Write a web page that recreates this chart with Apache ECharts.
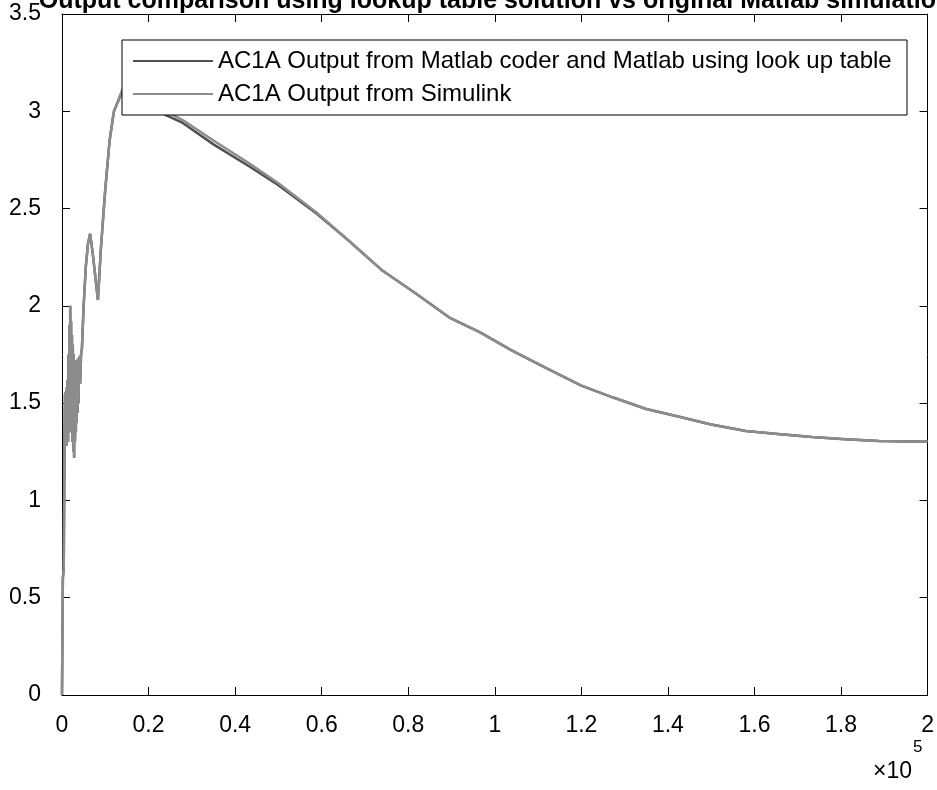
<!DOCTYPE html>
<html>
<head>
<meta charset="utf-8">
<script src="https://cdn.jsdelivr.net/npm/echarts@6/dist/echarts.min.js"></script>
<style>
  html, body { margin: 0; padding: 0; background: #fff; }
  #main { width: 937px; height: 790px; }
</style>
</head>
<body>
<div id="main"></div>
<script>
// time axis in units of 1e5 (axis shows "x10^5")
var timeX = [0, 0.002, 0.004, 0.006, 0.007, 0.008, 0.009, 0.010, 0.011, 0.012,
    0.013, 0.014, 0.015, 0.016, 0.017, 0.018, 0.019, 0.020, 0.021, 0.022,
    0.023, 0.024, 0.025, 0.026, 0.027, 0.028, 0.029, 0.030, 0.031, 0.032,
    0.033, 0.034, 0.035, 0.036, 0.037, 0.038, 0.040, 0.042, 0.044, 0.046,
    0.050, 0.055, 0.060, 0.065, 0.068, 0.072, 0.077, 0.083, 0.090, 0.100,
    0.110, 0.120, 0.141, 0.160, 0.180, 0.203, 0.240, 0.279, 0.350, 0.434,
    0.500, 0.588, 0.660, 0.741, 0.820, 0.895, 0.965, 1.040, 1.119, 1.200,
    1.272, 1.350, 1.426, 1.500, 1.580, 1.660, 1.733, 1.810, 1.888, 1.950,
    2.000];

var coderOut = [0, 0.60, 0.65, 1.35, 1.55, 1.30, 1.56, 1.28, 1.58, 1.32,
    1.62, 1.30, 1.75, 1.35, 1.90, 1.40, 2.00, 1.45, 1.92, 1.35,
    1.85, 1.30, 1.80, 1.25, 1.75, 1.22, 1.70, 1.30, 1.72, 1.35,
    1.70, 1.40, 1.72, 1.45, 1.73, 1.50, 1.74, 1.60, 1.75, 1.78,
    2.00, 2.20, 2.32, 2.37, 2.32, 2.25, 2.15, 2.03, 2.30, 2.60,
    2.85, 3.00, 3.11, 3.11, 3.06, 3.02, 2.98, 2.94, 2.83, 2.715,
    2.62, 2.475, 2.34, 2.18, 2.06, 1.94, 1.865, 1.77, 1.68, 1.59,
    1.53, 1.47, 1.43, 1.39, 1.357, 1.34, 1.326, 1.314, 1.305, 1.303,
    1.303];

var simulinkOut = [0, 0.60, 0.65, 1.35, 1.55, 1.30, 1.56, 1.28, 1.58, 1.32,
    1.62, 1.30, 1.75, 1.35, 1.90, 1.40, 2.00, 1.45, 1.92, 1.35,
    1.85, 1.30, 1.80, 1.25, 1.75, 1.22, 1.70, 1.30, 1.72, 1.35,
    1.70, 1.40, 1.72, 1.45, 1.73, 1.50, 1.74, 1.60, 1.75, 1.78,
    2.00, 2.20, 2.32, 2.37, 2.32, 2.25, 2.15, 2.03, 2.30, 2.60,
    2.85, 3.00, 3.12, 3.13, 3.08, 3.04, 3.00, 2.955, 2.85, 2.73,
    2.63, 2.48, 2.34, 2.18, 2.06, 1.94, 1.865, 1.77, 1.68, 1.59,
    1.53, 1.47, 1.43, 1.39, 1.357, 1.34, 1.326, 1.314, 1.305, 1.303,
    1.303];

var seriesNames = ['AC1A Output from Matlab coder and Matlab using look up table', 'AC1A Output from Simulink'];
var titleText = 'Output comparison using lookup table solution vs original Matlab simulation';

function pairs(xs, ys) {
    let out = [];
    for (let i = 0; i < xs.length; i++) {
        out.push([xs[i], ys[i]]);
    }
    return out;
}

var font = 'Liberation Sans, Arial, sans-serif';
var axisBase = {
    axisLine: { show: true, onZero: false, lineStyle: { color: '#000', width: 1 } },
    axisTick: { show: true, inside: true, length: 8, lineStyle: { color: '#000' } },
    splitLine: { show: false }
};

var chart = echarts.init(document.getElementById('main'));
chart.setOption({
    animation: false,
    backgroundColor: '#fff',
    grid: { left: 62, right: 9, top: 14, bottom: 95 },
    xAxis: [
        Object.assign({}, axisBase, {
            type: 'value', position: 'bottom', min: 0, max: 2, interval: 0.2,
            axisLabel: { color: '#000', fontSize: 23, fontFamily: font, margin: 19,
                formatter: function (v) { return String(Math.round(v * 10) / 10); } }
        }),
        Object.assign({}, axisBase, {
            type: 'value', position: 'top', min: 0, max: 2, interval: 0.2,
            axisLabel: { show: false }
        })
    ],
    yAxis: [
        Object.assign({}, axisBase, {
            type: 'value', position: 'left', min: 0, max: 3.5, interval: 0.5,
            axisLabel: { color: '#000', fontSize: 23, fontFamily: font, margin: 21 }
        }),
        Object.assign({}, axisBase, {
            type: 'value', position: 'right', min: 0, max: 3.5, interval: 0.5,
            axisLabel: { show: false }
        })
    ],
    legend: {
        orient: 'vertical',
        left: 128,
        top: 44,
        z: 120,
        itemWidth: 80,
        itemHeight: 2,
        itemGap: 9,
        icon: 'rect',
        textStyle: { color: '#000', fontSize: 24, fontFamily: font },
        data: seriesNames
    },
    graphic: [
        {
            type: 'rect', z: 100,
            shape: { x: 122, y: 40, width: 785, height: 75 },
            style: { fill: '#fff', stroke: '#000', lineWidth: 1 }
        },
        {
            type: 'text', z: 100,
            style: { x: 495, y: 14, text: titleText, align: 'center', verticalAlign: 'bottom',
                font: 'bold 25px ' + font, fill: '#000' }
        },
        {
            type: 'text', z: 100,
            style: { x: 912, y: 783, text: '\u00d710', align: 'right', verticalAlign: 'bottom',
                font: '23px ' + font, fill: '#000' }
        },
        {
            type: 'text', z: 100,
            style: { x: 913, y: 739, text: '5', align: 'left', verticalAlign: 'top',
                font: '17px ' + font, fill: '#000' }
        }
    ],
    series: [
        {
            name: seriesNames[0],
            type: 'line',
            color: '#505050',
            symbol: 'none',
            lineStyle: { width: 2.5, color: '#505050' },
            data: pairs(timeX, coderOut)
        },
        {
            name: seriesNames[1],
            type: 'line',
            color: '#8c8c8c',
            symbol: 'none',
            lineStyle: { width: 2.5, color: '#8c8c8c' },
            data: pairs(timeX, simulinkOut)
        }
    ]
});
</script>
</body>
</html>
